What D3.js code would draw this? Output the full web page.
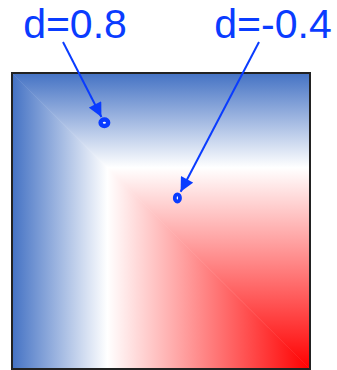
<!DOCTYPE html>
<html>
<head>
<meta charset="utf-8">
<script src="https://cdn.jsdelivr.net/npm/d3@7"></script>
<style>
  html, body { margin: 0; padding: 0; background: #ffffff; }
  svg { display: block; }
</style>
</head>
<body>
<svg id="chart" width="337" height="370"></svg>
<script>
// Colour ramp of the field: value of min(u, v) along the unit square
const stopOffsets = [0, 0.32, 1];
const stopColors = ["#4472c4", "#ffffff", "#ff0000"];

// Annotated points (unit-square coordinates) and their labels
const pointU = [0.31, 0.555];
const pointV = [0.168, 0.422];
const labels = ["d=0.8", "d=-0.4"];

const svg = d3.select("#chart");
const x = d3.scaleLinear().domain([0, 1]).range([12, 310]);
const y = d3.scaleLinear().domain([0, 1]).range([73, 369]);

const defs = svg.append("defs");

// Horizontal ramp (below the diagonal the field follows u)
const gH = defs.append("linearGradient").attr("id", "gradU")
  .attr("gradientUnits", "userSpaceOnUse")
  .attr("x1", x(0)).attr("y1", 0).attr("x2", x(1)).attr("y2", 0);
// Vertical ramp (above the diagonal the field follows v)
const gV = defs.append("linearGradient").attr("id", "gradV")
  .attr("gradientUnits", "userSpaceOnUse")
  .attr("x1", 0).attr("y1", y(0)).attr("x2", 0).attr("y2", y(1));
[gH, gV].forEach(g => {
  g.selectAll("stop").data(stopOffsets).join("stop")
    .attr("offset", d => d)
    .attr("stop-color", (d, i) => stopColors[i]);
});

const line = d3.line().x(d => x(d[0])).y(d => y(d[1]));

// Lower-left triangle: v >= u
svg.append("path")
  .attr("d", line([[0, 0], [1, 1], [0, 1]]) + "Z")
  .attr("fill", "url(#gradU)")
  .attr("stroke", "url(#gradU)").attr("stroke-width", 0.5);
// Upper-right triangle: u >= v
svg.append("path")
  .attr("d", line([[0, 0], [1, 0], [1, 1]]) + "Z")
  .attr("fill", "url(#gradV)")
  .attr("stroke", "url(#gradV)").attr("stroke-width", 0.5);

// Frame
svg.append("rect")
  .attr("x", x(0)).attr("y", y(0))
  .attr("width", x(1) - x(0)).attr("height", y(1) - y(0))
  .attr("fill", "none").attr("stroke", "#222").attr("stroke-width", 2);

const blue = "#0a3cff";

defs.append("marker").attr("id", "head")
  .attr("viewBox", "0 0 10 10").attr("refX", 10).attr("refY", 5)
  .attr("markerWidth", 16).attr("markerHeight", 14)
  .attr("markerUnits", "userSpaceOnUse")
  .attr("orient", "auto")
  .append("path").attr("d", "M0,0 L10,5 L0,10 Z").attr("fill", blue);

// Label anchor positions, arrow start points and marker shapes
const labelX = [75, 273];
const arrowStart = [[63, 42], [259, 42]];
const arrowGap = [6.5, 7];
const ringRx = [3.8, 2.6];
const ringRy = [3.2, 3.6];
const ringWidth = [4.4, 3.8];

labels.forEach((t, i) => {
  const px = x(pointU[i]), py = y(pointV[i]);
  const [sx, sy] = arrowStart[i];
  const dx = px - sx, dy = py - sy, len = Math.hypot(dx, dy);
  const ex = px - dx / len * arrowGap[i], ey = py - dy / len * arrowGap[i];
  svg.append("line")
    .attr("x1", sx).attr("y1", sy).attr("x2", ex).attr("y2", ey)
    .attr("stroke", blue).attr("stroke-width", 2)
    .attr("marker-end", "url(#head)");
  svg.append("ellipse")
    .attr("cx", px).attr("cy", py)
    .attr("rx", ringRx[i]).attr("ry", ringRy[i])
    .attr("fill", "#ffffff").attr("stroke", blue).attr("stroke-width", ringWidth[i]);
  svg.append("text")
    .attr("x", labelX[i]).attr("y", 38)
    .attr("text-anchor", "middle")
    .attr("font-family", "'Liberation Sans', Arial, sans-serif")
    .attr("font-size", 41)
    .attr("fill", blue)
    .text(t);
});
</script>
</body>
</html>
